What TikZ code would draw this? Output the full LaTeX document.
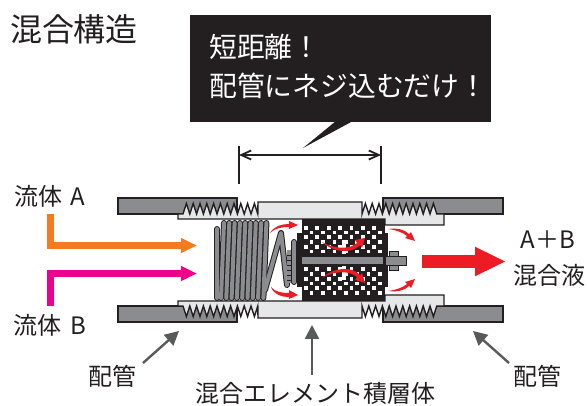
\documentclass[tikz,border=0pt]{standalone}
\usepackage{fontspec}
\setmainfont{Noto Sans CJK JP}
\usetikzlibrary{arrows.meta, positioning, calc}
\definecolor{inkdark}{HTML}{231F20}
\definecolor{pipegray}{HTML}{8A8C8F}
\definecolor{tubelight}{HTML}{E6E7E8}
\definecolor{arrowgray}{HTML}{58595B}
\definecolor{flowred}{HTML}{ED1C24}
\definecolor{floworange}{HTML}{F47B20}
\definecolor{flowpink}{HTML}{EC008C}
\tikzset{
    pipepart/.style={fill=pipegray, draw=inkdark, line width=1.1pt},
    tubepart/.style={fill=tubelight, draw=inkdark, line width=1.4pt, line join=miter},
    coildark/.style={draw=inkdark, line width=6pt, line cap=round, line join=round},
    coilgray/.style={draw=pipegray, line width=4pt, line cap=round, line join=round},
    pointer/.style={draw=arrowgray, line width=2.4pt, -{Triangle[length=14pt, width=14pt]}},
    label/.style={font=\fontsize{24}{24}\selectfont, text=inkdark, inner sep=0pt},
    calloutline/.style={font=\fontsize{27.8}{27.8}\selectfont, text=white, inner sep=0pt, anchor=west},
}
\begin{document}
\begin{tikzpicture}[x=1pt, y=-1pt]
    \useasboundingbox (0,0) rectangle (587,406);

    % Title
    \node[label, font=\fontsize{32}{32}\selectfont] (title) at (74,29) {混合構造};

    % Callout
    \fill[inkdark] (190,15) rectangle (491,122);
    \fill[inkdark] (336,121) -- (353,121) -- (303,148) -- cycle;
    \node[calloutline] (short) at (209,47) {短距離！};
    \node[calloutline] (screw) at (209,86) {配管にネジ込むだけ！};

    % Dimension
    \coordinate (dimleft) at (239,155);
    \coordinate (dimright) at (381,155);
    \draw[inkdark, line width=2pt] (239,146) -- (239,184);
    \draw[inkdark, line width=2pt] (381,146) -- (381,184);
    \draw[inkdark, line width=1.8pt, {Straight Barb[length=10pt, width=9pt]}-{Straight Barb[length=10pt, width=9pt]}] (dimleft) -- (dimright);

    % Pipes and threaded tube, upper half and its mirror image
    \foreach \ys/\yo in {-1pt/0, 1pt/520} {
        \begin{scope}[shift={(0,\yo)}, y=\ys]
            \draw[pipepart] (118,198) rectangle (237,214);
            \draw[pipepart] (383,198) rectangle (503,214);
            \draw[tubepart] (178,219) -- (178,214) -- (183,214)
                foreach \t in {1,...,11} { -- ++(3.4,-10.5) -- ++(3.4,10.5)}
                -- (258,202) -- (362,202) -- (362,214)
                foreach \t in {1,...,11} { -- ++(3.4,-10.5) -- ++(3.4,10.5)}
                -- (444,214) -- (444,225) -- (385,225) -- (385,219) -- cycle;
        \end{scope}
    }

    % Spring
    \foreach \c in {0,...,8} {
        \draw[coildark] ({221+\c*5.3+3},223) -- ({221+\c*5.3},298);
    }
    \draw[coildark] (217,229) -- (217,298);
    \draw[coildark] (265,290) -- (281,233) -- (287,285);
    \draw[coildark] (294,242) -- (294,282);
    \foreach \c in {0,...,8} {
        \draw[coilgray] ({221+\c*5.3+3},223) -- ({221+\c*5.3},298);
    }
    \draw[coilgray] (217,229) -- (217,298);
    \draw[coilgray] (265,290) -- (281,233) -- (287,285);
    \draw[coilgray] (294,242) -- (294,282);
    \fill[pipegray] (287,250) rectangle (291,283);
    \foreach \y in {255,260,...,280} {
        \draw[inkdark, line width=0.4pt] (287,\y) -- (291,\y);
    }

    % Mixing element
    \fill[inkdark] (302,219) rectangle (385,301);
    \fill[inkdark] (297,233) rectangle (388,287);
    \foreach \r in {0,...,5} {
        \foreach \c in {0,...,6} {
            \fill[white] ({304+\c*11.4+5.7*mod(\r,2)},{226+\r*4.75}) rectangle ++(3.7,3.7);
            \fill[white] ({304+\c*11.4+5.7*mod(\r,2)},{267.5+\r*4.75}) rectangle ++(3.7,3.7);
        }
    }
    \fill[white] (342,240) rectangle (346,254);
    \fill[white] (342,266) rectangle (346,280);
    \fill[inkdark] (302,254) rectangle (385,266);
    \fill[pipegray, draw=inkdark, line width=0.6pt] (389,251) rectangle (398,270);
    \fill[pipegray, draw=inkdark, line width=0.6pt] (385,256) rectangle (406,265);
    \fill[pipegray] (302,257) rectangle (383,264);

    % Flow inside the element
    \fill[flowred] (322,242) .. controls (336,250) and (350,249) .. (357,243) -- (355,240) -- (365,238) -- (362,248) -- (360,245) .. controls (352,254) and (334,253) .. cycle;
    \fill[flowred] (322,278) .. controls (336,270) and (350,271) .. (357,277) -- (355,280) -- (365,283) -- (362,273) -- (360,275) .. controls (352,266) and (334,267) .. cycle;
    \fill[flowred] (270,233) .. controls (274,226) and (282,224) .. (289,224) -- (289,221) -- (298,225) -- (289,229) -- (289,227) .. controls (282,227) and (275,228) .. cycle;
    \fill[flowred] (271,287) .. controls (275,292) and (282,293) .. (289,293) -- (289,290) -- (298,295) -- (289,299) -- (289,297) .. controls (282,297) and (274,295) .. cycle;
    \fill[flowred] (388,229) .. controls (397,228) and (404,229) .. (409,234) -- (411,232) -- (415,241) -- (405,238) -- (407,236) .. controls (402,232) and (396,230) .. cycle;
    \fill[flowred] (388,291) .. controls (397,292) and (404,291) .. (409,286) -- (411,288) -- (415,279) -- (405,282) -- (407,284) .. controls (402,288) and (396,290) .. cycle;

    % Inlets and outlet
    \coordinate (orangestart) at (50.5,214);
    \coordinate (orangecorner) at (50.5,245.5);
    \coordinate (orangeend) at (197,245.5);
    \coordinate (pinkstart) at (50.5,306);
    \coordinate (pinkcorner) at (50.5,273.5);
    \coordinate (pinkend) at (197,273.5);
    \coordinate (outstart) at (422,261.5);
    \coordinate (outend) at (506,261.5);
    \draw[floworange, line width=7pt, -{Triangle[length=16pt, width=14pt]}] (orangestart) -- (orangecorner) -- (orangeend);
    \draw[flowpink, line width=7pt, -{Triangle[length=16pt, width=14pt]}] (pinkstart) -- (pinkcorner) -- (pinkend);
    \draw[flowred, line width=13pt, -{Triangle[length=31pt, width=27pt]}] (outstart) -- (outend);

    % Labels
    \node[label] (fluida) at (49.5,196) {流体\hspace{3pt} A};
    \node[label] (fluidb) at (50,325) {流体\hspace{3pt} B};
    \node[label] (ab) at (548,240) {A＋B};
    \node[label] (mixed) at (549,275) {混合液};
    \node[label] (pipeleft) at (112,376) {配管};
    \node[label] (piperight) at (537,376) {配管};
    \node[label] (stack) at (315,393) {混合エレメント積層体};

    % Leader arrows
    \coordinate (leftstart) at (143,363);
    \coordinate (lefttip) at (179,331);
    \coordinate (midstart) at (312,375);
    \coordinate (midtip) at (312,325);
    \coordinate (rightstart) at (509,363);
    \coordinate (righttip) at (473,331);
    \draw[pointer] (leftstart) -- (lefttip);
    \draw[pointer] (midstart) -- (midtip);
    \draw[pointer] (rightstart) -- (righttip);
\end{tikzpicture}
\end{document}
